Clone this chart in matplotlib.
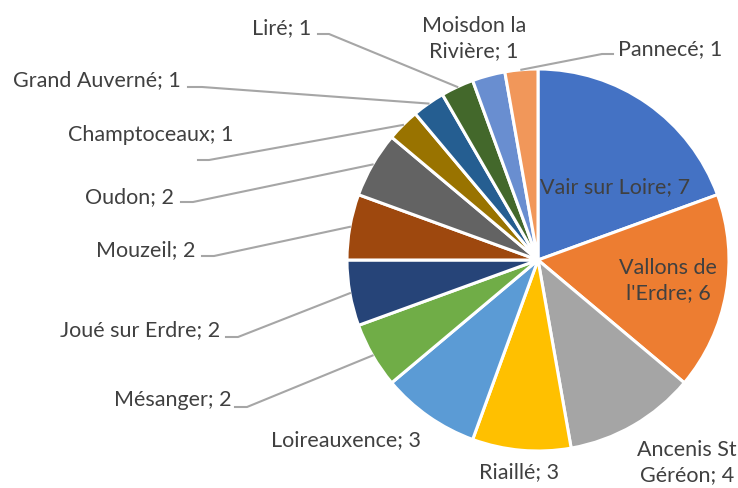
import matplotlib.pyplot as plt
import matplotlib as mpl
import numpy as np

mpl.rcParams['font.family'] = ['Lato', 'DejaVu Sans']

# données : communes et nombre
communes = ["Vair sur Loire", "Vallons de\nl'Erdre", "Ancenis St\nGéréon", "Riaillé",
            "Loireauxence", "Mésanger", "Joué sur Erdre", "Mouzeil", "Oudon",
            "Champtoceaux", "Grand Auverné", "Liré", "Moisdon la\nRivière", "Pannecé"]
valeurs = [7, 6, 4, 3, 3, 2, 2, 2, 2, 1, 1, 1, 1, 1]
couleurs = ['#4472C4', '#ED7D31', '#A5A5A5', '#FFC000', '#5B9BD5', '#70AD47',
            '#264478', '#9E480E', '#636363', '#997300', '#255E91', '#43682B',
            '#698ED0', '#F1975A']

W, H = 738, 488
cx, cy, R = 538, 260, 191  # en pixels, y vers le bas

# position des étiquettes (x, y en pixels, alignement) et coude des lignes de rappel
pos_etiq = [(615, 187, 'center'), (668, 281, 'center'), (687, 463, 'center'),
            (519, 472, 'center'), (346, 440, 'center'), (231, 400, 'right'),
            (220, 330, 'right'), (195, 250, 'right'), (174, 197, 'right'),
            (233, 135, 'right'), (181, 80, 'right'), (311, 28, 'right'),
            (474, 39, 'center'), (618, 49, 'left')]
coudes = {5: [(235, 407), (247, 407)], 6: [(226, 337), (238, 337)],
          7: [(202, 256), (214, 256)], 8: [(181, 202), (193, 202)],
          9: [(198, 160), (209, 160)], 10: [(188, 87), (202, 87)],
          11: [(318, 34), (329, 34)], 13: [(613, 54), (602, 54)]}

fig = plt.figure(figsize=(W / 100, H / 100), dpi=100)
ax = fig.add_axes([0, 0, 1, 1])
ax.pie(valeurs, colors=couleurs, startangle=90, counterclock=False,
       center=(cx, H - cy), radius=R,
       wedgeprops=dict(edgecolor='white', linewidth=2.2))
ax.set_xlim(0, W)
ax.set_ylim(0, H)
ax.set_aspect('equal')
ax.axis('off')

total = sum(valeurs)
cum = np.cumsum([0] + valeurs)
for i, (nom, v) in enumerate(zip(communes, valeurs)):
    x, y, ha = pos_etiq[i]
    ax.text(x, H - y, f"{nom}; {v}", ha=ha, va='center', fontsize=15.5,
            color='#404040', linespacing=1.32)
    if i in coudes:
        mid = (cum[i] + v / 2) / total * 2 * np.pi
        ex, ey = cx + R * np.sin(mid), cy - R * np.cos(mid)
        pts = coudes[i] + [(ex, ey)]
        ax.plot([p[0] for p in pts], [H - p[1] for p in pts], color='#A6A6A6', lw=1.5)

fig.savefig('out.png', dpi=100)
